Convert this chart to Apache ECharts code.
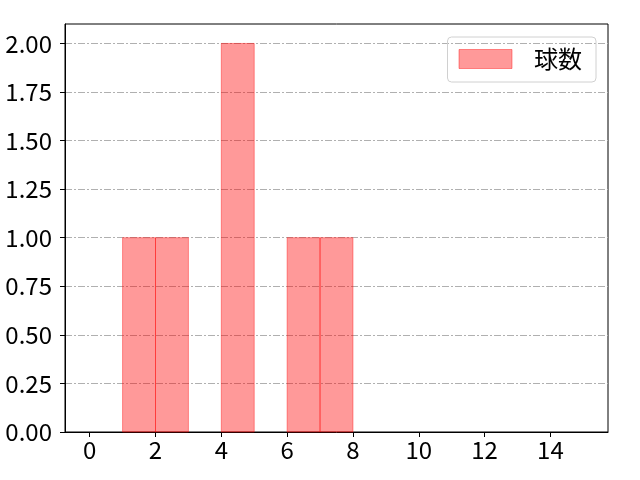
<!DOCTYPE html>
<html><head><meta charset="utf-8">
<script src="https://cdn.jsdelivr.net/npm/echarts@6/dist/echarts.min.js"></script>
<style>html,body{margin:0;padding:0;background:#fff}#c{width:640px;height:480px}</style>
</head><body><div id="c"></div>
<script>
var binStarts = [1, 2, 4, 6, 7];
var binEnds = [2, 3, 5, 7, 8];
var counts = [1, 1, 2, 1, 1];
var seriesName = '球数';
var xTicks = [0, 2, 4, 6, 8, 10, 12, 14];
var yTicks = [0, 0.25, 0.5, 0.75, 1.0, 1.25, 1.5, 1.75, 2.0];

var data = binStarts.map(function (s, i) { return [s, binEnds[i], counts[i]]; });
var FONT = '"Noto Sans CJK JP", "Noto Sans", sans-serif';
var chart = echarts.init(document.getElementById('c'), null, {renderer: 'canvas'});
chart.setOption({
  animation: false,
  grid: {left: 65, right: 32, top: 24, bottom: 48, show: true, borderColor: '#000', borderWidth: 1, backgroundColor: 'transparent'},
  legend: {
    right: 44, top: 37, orient: 'vertical',
    padding: [10, 14, 11, 11],
    borderColor: '#d0d0d0', borderWidth: 1, borderRadius: 4,
    itemWidth: 53, itemHeight: 19, itemGap: 10,
    textStyle: {fontFamily: FONT, fontSize: 24, lineHeight: 24, color: '#000', padding: [0, 0, 0, 17]},
    data: [{name: seriesName, icon: 'rect', itemStyle: {color: 'rgba(255,0,0,0.4)', borderColor: 'rgba(255,0,0,0.4)', borderWidth: 1}}]
  },
  xAxis: {
    type: 'value', min: -0.75, max: 15.75, interval: 2,
    axisLine: {show: true, onZero: false, lineStyle: {color: '#000', width: 1}},
    axisTick: {show: true, length: 5, lineStyle: {color: '#000'},
      customValues: xTicks},
    axisLabel: {fontFamily: FONT, fontSize: 24, color: '#000', margin: 6,
      customValues: xTicks},
    splitLine: {show: false}
  },
  yAxis: {
    type: 'value', min: 0, max: 2.1, interval: 0.25,
    axisLine: {show: true, onZero: false, lineStyle: {color: '#000', width: 1}},
    axisTick: {show: true, length: 5, lineStyle: {color: '#000'}, customValues: yTicks},
    axisLabel: {fontFamily: FONT, fontSize: 24, color: '#000', margin: 13,
      customValues: yTicks,
      formatter: function (v) { return v.toFixed(2); }},
    splitLine: {show: true, lineStyle: {color: '#b0b0b0', width: 1, type: [7, 2, 2, 2]}}
  },
  series: [{
    name: seriesName, type: 'custom', z: 1,
    encode: {x: [0, 1], y: 2},
    itemStyle: {color: 'rgba(255,0,0,0.4)'},
    renderItem: function (params, api) {
      var p0 = api.coord([api.value(0), api.value(2)]);
      var p1 = api.coord([api.value(1), 0]);
      return {type: 'rect', shape: {x: p0[0], y: p0[1], width: p1[0] - p0[0], height: p1[1] - p0[1]},
        style: {fill: 'rgba(255,0,0,0.4)', stroke: 'rgba(255,0,0,0.4)', lineWidth: 1}};
    },
    data: data
  }]
});
</script></body></html>
